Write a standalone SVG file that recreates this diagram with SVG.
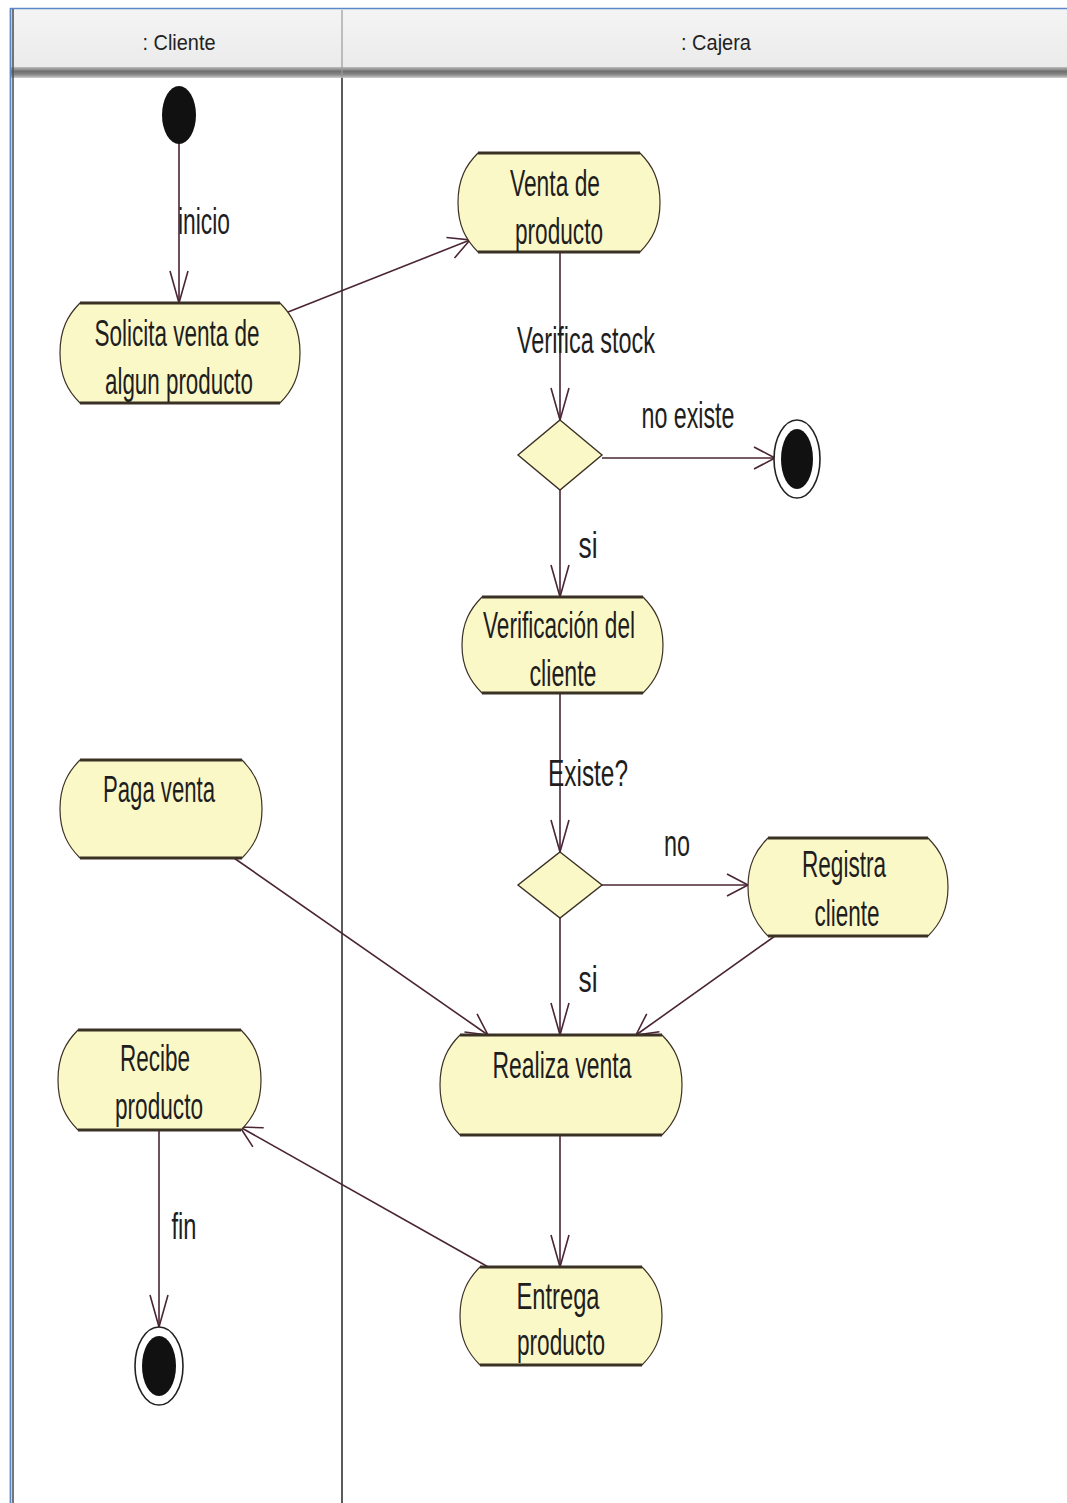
<svg xmlns="http://www.w3.org/2000/svg" width="1067" height="1503" viewBox="0 0 1067 1503">
<defs>
<style>
.node{fill:#fbf8c8;stroke:#3b3024;stroke-width:1.2}
.edge{stroke:#3b3024;stroke-width:3;fill:none}
.conn{stroke:#4a2535;stroke-width:1.6;fill:none}
.t{font-family:"Liberation Sans",Arial,sans-serif;font-size:36px;fill:#1e1e1e;text-anchor:middle}
.h{font-family:"Liberation Sans",Arial,sans-serif;font-size:22px;fill:#222;text-anchor:middle}
</style>
<linearGradient id="hdr" x1="0" y1="0" x2="0" y2="1">
<stop offset="0" stop-color="#f4f4f4"/>
<stop offset="1" stop-color="#ebebeb"/>
</linearGradient>
<linearGradient id="band" x1="0" y1="0" x2="0" y2="1">
<stop offset="0" stop-color="#bdbdbd"/>
<stop offset="0.4" stop-color="#6f6f6f"/>
<stop offset="0.7" stop-color="#8a8a8a"/>
<stop offset="1" stop-color="#d0d0d0"/>
</linearGradient>
<marker id="av" viewBox="-34 -12 36 24" refX="0" refY="0" markerWidth="36" markerHeight="24" markerUnits="userSpaceOnUse" orient="auto">
<path d="M-32,-9 L0,0 L-32,9" fill="none" stroke="#4a2535" stroke-width="1.6"/>
</marker>
<marker id="ah" viewBox="-24 -14 26 28" refX="0" refY="0" markerWidth="26" markerHeight="28" markerUnits="userSpaceOnUse" orient="auto">
<path d="M-21,-11 L0,0 L-21,11" fill="none" stroke="#4a2535" stroke-width="1.6"/>
</marker>
</defs>
<rect x="0" y="0" width="1067" height="1503" fill="#ffffff"/>
<g id="frame">
<rect x="11" y="9" width="1056" height="58" fill="url(#hdr)"/>
<rect x="11" y="67" width="1056" height="11" fill="url(#band)"/>
<line x1="10" y1="8.5" x2="1067" y2="8.5" stroke="#5b87c8" stroke-width="1.5"/>
<line x1="10.5" y1="8" x2="10.5" y2="1503" stroke="#5b87c8" stroke-width="1.8"/>
<line x1="13" y1="9" x2="13" y2="1503" stroke="#555" stroke-width="1.6"/>
<line x1="342" y1="10" x2="342" y2="78" stroke="#9a9a9a" stroke-width="1.2"/>
<line x1="342" y1="78" x2="342" y2="1503" stroke="#333" stroke-width="1.6"/>
<text class="h" x="179" y="50" textLength="73" lengthAdjust="spacingAndGlyphs">: Cliente</text>
<text class="h" x="716" y="50" textLength="70" lengthAdjust="spacingAndGlyphs">: Cajera</text>
</g>
<g id="connectors">
<line class="conn" x1="179" y1="143" x2="179" y2="303" marker-end="url(#av)"/>
<line class="conn" x1="283" y1="314" x2="470" y2="240" marker-end="url(#ah)"/>
<line class="conn" x1="560" y1="252" x2="560" y2="420" marker-end="url(#av)"/>
<line class="conn" x1="602" y1="458" x2="775" y2="458" marker-end="url(#ah)"/>
<line class="conn" x1="560" y1="490" x2="560" y2="597" marker-end="url(#av)"/>
<line class="conn" x1="560" y1="693" x2="560" y2="852" marker-end="url(#av)"/>
<line class="conn" x1="602" y1="885" x2="748" y2="885" marker-end="url(#ah)"/>
<line class="conn" x1="560" y1="918" x2="560" y2="1035" marker-end="url(#av)"/>
<line class="conn" x1="775" y1="936" x2="636" y2="1035" marker-end="url(#ah)"/>
<line class="conn" x1="234" y1="858" x2="488" y2="1035" marker-end="url(#ah)"/>
<line class="conn" x1="560" y1="1135" x2="560" y2="1267" marker-end="url(#av)"/>
<line class="conn" x1="490" y1="1268" x2="240" y2="1127" marker-end="url(#ah)"/>
<line class="conn" x1="159" y1="1130" x2="159" y2="1327" marker-end="url(#av)"/>
<text class="t" x="204" y="234" textLength="52" lengthAdjust="spacingAndGlyphs">inicio</text>
<text class="t" x="586" y="353" textLength="138" lengthAdjust="spacingAndGlyphs">Verifica stock</text>
<text class="t" x="688" y="428" textLength="93" lengthAdjust="spacingAndGlyphs">no existe</text>
<text class="t" x="588" y="558" textLength="19" lengthAdjust="spacingAndGlyphs">si</text>
<text class="t" x="588" y="786" textLength="80" lengthAdjust="spacingAndGlyphs">Existe?</text>
<text class="t" x="677" y="856" textLength="26" lengthAdjust="spacingAndGlyphs">no</text>
<text class="t" x="588" y="992" textLength="19" lengthAdjust="spacingAndGlyphs">si</text>
<text class="t" x="184" y="1239" textLength="25" lengthAdjust="spacingAndGlyphs">fin</text>
</g>
<g id="start">
<ellipse cx="179" cy="115" rx="17" ry="29" fill="#111"/>
</g>
<g id="solicita">
<path class="node" d="M80,303 H280 C292,315 300,329 300,353 C300,377 292,391 280,403 H80 C68,391 60,377 60,353 C60,329 68,315 80,303 Z"/>
<path class="edge" d="M80,303 H280 M80,403 H280"/>
<text class="t" x="177" y="346" textLength="165" lengthAdjust="spacingAndGlyphs">Solicita venta de</text>
<text class="t" x="179" y="394" textLength="148" lengthAdjust="spacingAndGlyphs">algun producto</text>
</g>
<g id="venta">
<path class="node" d="M478,153 H640 C652,165 660,179 660,202.5 C660,226 652,240 640,252 H478 C466,240 458,226 458,202.5 C458,179 466,165 478,153 Z"/>
<path class="edge" d="M478,153 H640 M478,252 H640"/>
<text class="t" x="555" y="196" textLength="90" lengthAdjust="spacingAndGlyphs">Venta de</text>
<text class="t" x="559" y="244" textLength="88" lengthAdjust="spacingAndGlyphs">producto</text>
</g>
<g id="decision1">
<polygon points="560,420 602,455 560,490 518,455" fill="#fbf8c8" stroke="#3b3024" stroke-width="1.4"/>
</g>
<g id="final1">
<ellipse cx="797" cy="459" rx="23" ry="39" fill="#fff" stroke="#222" stroke-width="1.6"/>
<ellipse cx="797" cy="459" rx="16" ry="30" fill="#111"/>
</g>
<g id="verificacion">
<path class="node" d="M482,597 H643 C655,609 663,623 663,645 C663,667 655,681 643,693 H482 C470,681 462,667 462,645 C462,623 470,609 482,597 Z"/>
<path class="edge" d="M482,597 H643 M482,693 H643"/>
<text class="t" x="559" y="638" textLength="152" lengthAdjust="spacingAndGlyphs">Verificación del</text>
<text class="t" x="563" y="686" textLength="67" lengthAdjust="spacingAndGlyphs">cliente</text>
</g>
<g id="decision2">
<polygon points="560,852 602,885 560,918 518,885" fill="#fbf8c8" stroke="#3b3024" stroke-width="1.4"/>
</g>
<g id="registra">
<path class="node" d="M768,838 H928 C940,850 948,864 948,887 C948,910 940,924 928,936 H768 C756,924 748,910 748,887 C748,864 756,850 768,838 Z"/>
<path class="edge" d="M768,838 H928 M768,936 H928"/>
<text class="t" x="844" y="877" textLength="84" lengthAdjust="spacingAndGlyphs">Registra</text>
<text class="t" x="847" y="926" textLength="65" lengthAdjust="spacingAndGlyphs">cliente</text>
</g>
<g id="paga">
<path class="node" d="M80,760 H242 C254,772 262,786 262,809 C262,832 254,846 242,858 H80 C68,846 60,832 60,809 C60,786 68,772 80,760 Z"/>
<path class="edge" d="M80,760 H242 M80,858 H242"/>
<text class="t" x="159" y="802" textLength="112" lengthAdjust="spacingAndGlyphs">Paga venta</text>
</g>
<g id="realiza">
<path class="node" d="M460,1035 H662 C674,1047 682,1061 682,1085 C682,1109 674,1123 662,1135 H460 C448,1123 440,1109 440,1085 C440,1061 448,1047 460,1035 Z"/>
<path class="edge" d="M460,1035 H662 M460,1135 H662"/>
<text class="t" x="562" y="1078" textLength="139" lengthAdjust="spacingAndGlyphs">Realiza venta</text>
</g>
<g id="entrega">
<path class="node" d="M480,1267 H642 C654,1279 662,1293 662,1316 C662,1339 654,1353 642,1365 H480 C468,1353 460,1339 460,1316 C460,1293 468,1279 480,1267 Z"/>
<path class="edge" d="M480,1267 H642 M480,1365 H642"/>
<text class="t" x="558" y="1309" textLength="83" lengthAdjust="spacingAndGlyphs">Entrega</text>
<text class="t" x="561" y="1355" textLength="88" lengthAdjust="spacingAndGlyphs">producto</text>
</g>
<g id="recibe">
<path class="node" d="M78,1030 H241 C253,1042 261,1056 261,1080 C261,1104 253,1118 241,1130 H78 C66,1118 58,1104 58,1080 C58,1056 66,1042 78,1030 Z"/>
<path class="edge" d="M78,1030 H241 M78,1130 H241"/>
<text class="t" x="155" y="1071" textLength="70" lengthAdjust="spacingAndGlyphs">Recibe</text>
<text class="t" x="159" y="1119" textLength="88" lengthAdjust="spacingAndGlyphs">producto</text>
</g>
<g id="final2">
<ellipse cx="159" cy="1366" rx="24" ry="39" fill="#fff" stroke="#222" stroke-width="1.6"/>
<ellipse cx="159" cy="1366" rx="17" ry="30" fill="#111"/>
</g>
</svg>
